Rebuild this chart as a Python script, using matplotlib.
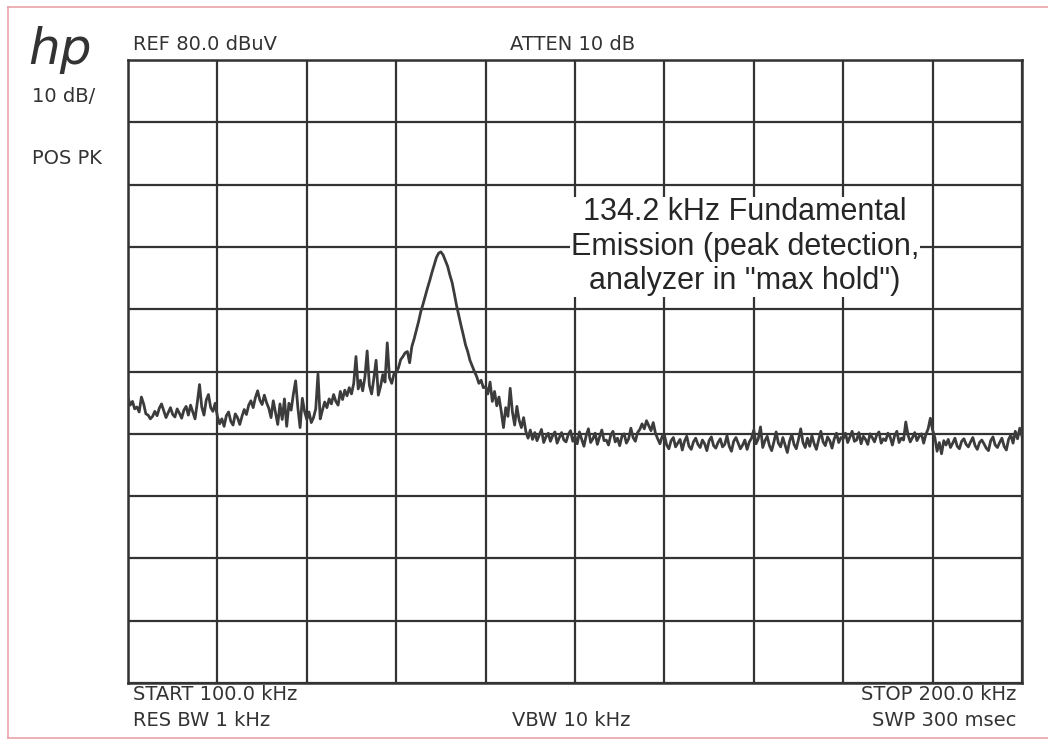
import numpy as np
import matplotlib.pyplot as plt
from matplotlib.lines import Line2D

# ── Trace data (dBuV), 0.25 kHz per point ──────────────────────────────────
div1 = [25.8, 24.6, 25.2, 24.0, 24.3, 23.5, 25.9, 24.8, 23.2, 23.0,
        22.4, 22.8, 23.6, 22.9, 24.1, 24.8, 23.7, 22.6, 23.4, 24.2,
        23.1, 22.7, 24.0, 23.3, 22.5, 23.8, 24.4, 23.0, 24.6, 23.5,
        22.4, 25.0, 27.9, 24.3, 23.0, 25.4, 26.3, 24.2, 23.6, 24.9]
div2 = [22.8, 21.6, 22.4, 21.2, 22.9, 23.5, 22.0, 21.4, 23.2, 22.6,
        21.5, 22.8, 23.9, 23.1, 24.6, 25.3, 24.2, 25.8, 26.9, 25.4,
        24.7, 26.2, 25.0, 24.1, 22.6, 25.3, 23.4, 21.5, 24.8, 22.3,
        25.6, 21.2, 24.9, 23.8, 26.4, 28.5, 24.2, 21.0, 25.7, 23.6]
div3 = [22.3, 23.5, 21.8, 22.6, 24.0, 29.6, 22.4, 23.8, 25.1, 24.2,
        25.6, 24.8, 26.3, 25.2, 24.6, 26.8, 25.5, 27.0, 26.1, 27.4,
        26.4, 28.1, 32.4, 27.2, 28.6, 26.9, 29.1, 33.3, 27.8, 26.4,
        28.9, 31.8, 26.2, 27.6, 29.5, 28.3, 34.6, 29.0, 28.1, 29.6]
div4 = [29.8, 30.6, 31.9, 32.4, 33.0, 33.2, 31.4, 34.0, 35.2, 36.6,
        38.0, 39.6, 40.8, 42.1, 43.4, 44.6, 45.9, 47.1, 48.3, 49.0,
        49.2, 48.7, 47.8, 46.9, 45.5, 44.3, 42.5, 40.6, 39.0, 37.4,
        35.9, 34.3, 33.2, 31.8, 30.9, 30.0, 29.2, 28.1, 28.6, 27.4]
div5 = [27.6, 26.4, 28.3, 25.2, 26.8, 24.5, 25.9, 23.6, 21.0, 24.2,
        22.8, 27.3, 23.5, 21.4, 24.4, 22.2, 21.0, 22.6, 20.4, 19.3,
        20.6, 19.1, 20.2, 18.9, 19.8, 20.7, 18.6, 19.5, 20.1, 18.8,
        19.7, 20.3, 18.5, 19.4, 20.2, 19.0, 18.7, 19.9, 20.5, 18.8]
div6 = [19.6, 18.4, 20.3, 19.1, 18.0, 19.7, 20.8, 18.6, 19.2, 20.1,
        18.3, 19.5, 20.6, 18.9, 19.0, 18.2, 19.8, 20.4, 18.7, 19.3,
        18.1, 19.6, 20.0, 18.5, 19.2, 20.9, 19.4, 18.8, 20.2, 20.7,
        21.6, 20.8, 22.1, 21.3, 20.5, 21.8, 20.1, 19.2, 18.4, 19.6]
div7 = [19.8, 18.2, 17.6, 18.9, 19.4, 17.9, 18.5, 19.1, 17.4, 18.8,
        19.6, 18.0, 17.5, 18.7, 19.3, 18.3, 17.8, 19.0, 18.4, 17.3,
        18.9, 19.5, 18.1, 17.7, 18.6, 19.2, 17.9, 18.3, 19.7, 18.0,
        17.2, 18.8, 19.4, 18.5, 17.6, 18.2, 19.0, 17.5, 18.7, 19.3]
div8 = [20.6, 18.4, 19.2, 21.1, 17.8, 18.9, 19.6, 18.1, 17.3, 18.7,
        20.3, 18.5, 17.9, 19.4, 18.2, 17.0, 18.8, 19.9, 18.3, 17.6,
        19.1, 20.8, 18.6, 17.8, 19.3, 18.0, 19.7, 18.4, 17.5, 19.0,
        20.4, 18.7, 18.1, 19.5, 18.9, 17.7, 19.2, 20.1, 18.6, 19.4]
div9 = [19.2, 20.1, 18.6, 19.5, 20.4, 18.8, 19.0, 20.2, 18.4, 19.6,
        19.1, 18.3, 20.0, 19.4, 18.7, 19.8, 20.3, 18.5, 19.2, 18.9,
        20.1, 19.5, 18.2, 19.7, 20.4, 18.6, 19.3, 19.0, 21.9, 19.8,
        18.7, 19.4, 20.2, 18.9, 19.6, 20.0, 18.5, 19.9, 20.8, 22.5]
div10 = [20.6, 19.4, 17.2, 18.6, 16.8, 18.9, 18.2, 19.1, 17.8, 18.5,
         19.3, 18.0, 17.6, 18.8, 19.2, 18.3, 17.9, 18.7, 19.4, 18.1,
         17.5, 18.6, 19.0, 18.4, 17.7, 17.3, 18.9, 19.5, 18.2, 17.8,
         18.6, 19.3, 18.0, 17.4, 19.1, 19.8, 18.5, 20.4, 19.2, 20.9, 19.6]

level_dbuv = np.array(div1 + div2 + div3 + div4 + div5 +
                      div6 + div7 + div8 + div9 + div10)
start_khz, stop_khz = 100.0, 200.0
ref_dbuv, db_per_div = 80.0, 10.0
freq_khz = np.linspace(start_khz, stop_khz, len(level_dbuv))

ink = "#333333"
hp_font = ["Liberation Sans Narrow", "DejaVu Sans"]

# ── Figure ─────────────────────────────────────────────────────────────────
fig = plt.figure(figsize=(10.48, 7.4), dpi=100)
fig.patch.set_facecolor("white")

# pinkish page border
for xs, ys in [([0.008, 1.0], [0.991, 0.991]),
               ([0.008, 0.008], [0.003, 0.991]),
               ([0.008, 1.0], [0.003, 0.003])]:
    fig.add_artist(Line2D(xs, ys, color="#e9a3a8", lw=1.2,
                          transform=fig.transFigure))

ax = fig.add_axes([128 / 1048, 57 / 740, 894 / 1048, 623 / 740])
ax.set_xlim(start_khz, stop_khz)
ax.set_ylim(ref_dbuv - 10 * db_per_div, ref_dbuv)
ax.set_xticks(np.arange(start_khz, stop_khz + 1, 10))
ax.set_yticks(np.arange(ref_dbuv - 10 * db_per_div, ref_dbuv + 1, db_per_div))
ax.grid(True, color=ink, lw=1.6)
ax.tick_params(left=False, bottom=False, labelleft=False, labelbottom=False)
for s in ax.spines.values():
    s.set_color(ink)
    s.set_linewidth(1.8)

ax.plot(freq_khz, level_dbuv, color="#3c3c3c", lw=2.0, zorder=3)

ax.text(0.69, 0.70,
        "134.2 kHz Fundamental\nEmission (peak detection,\nanalyzer in \"max hold\")",
        transform=ax.transAxes, ha="center", va="center", fontsize=22,
        family="Liberation Sans", color="#262626", linespacing=1.2,
        zorder=4, bbox=dict(facecolor="white", edgecolor="none", pad=0.5))

# ── Instrument annotations ────────────────────────────────────────────────
def ftxt(x, y, s, ha="left", size=14, **kw):
    fig.text(x / 1048, 1 - y / 740, s, ha=ha, va="center", fontsize=size,
             family=hp_font, color=ink, **kw)

ftxt(28, 50, "hp", size=36, style="italic", fontweight="light")
ftxt(32, 97, "10 dB/")
ftxt(32, 158, "POS PK")
ftxt(133, 45, "REF 80.0 dBuV")
ftxt(510, 45, "ATTEN 10 dB")
ftxt(133, 695, "START 100.0 kHz")
ftxt(133, 721, "RES BW 1 kHz")
ftxt(512, 721, "VBW 10 kHz")
ftxt(1016, 695, "STOP 200.0 kHz", ha="right")
ftxt(1016, 721, "SWP 300 msec", ha="right")

plt.savefig("out.png", dpi=100)
